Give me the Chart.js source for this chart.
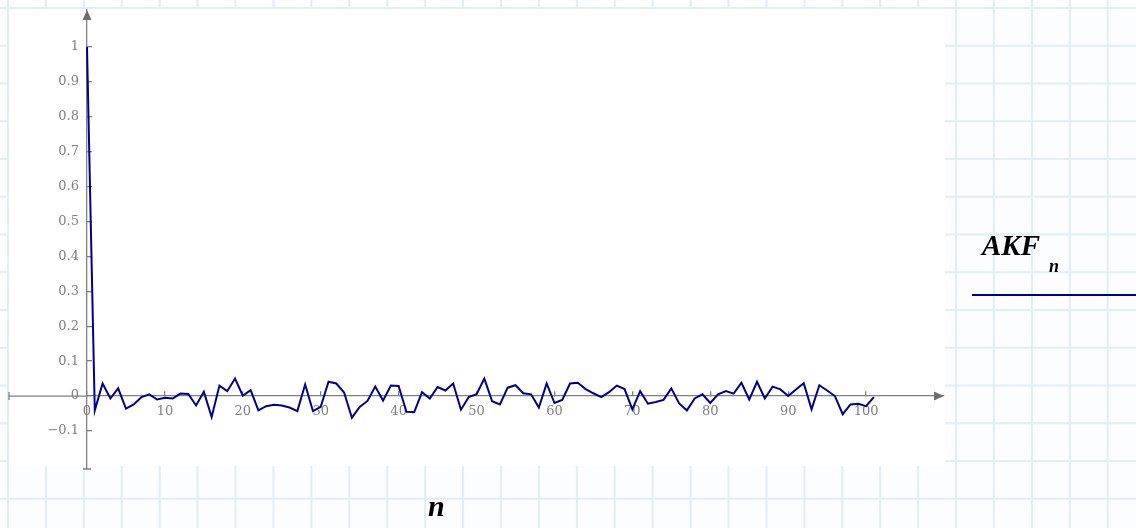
<!DOCTYPE html>
<html>
<head>
<meta charset="utf-8">
<script src="https://cdn.jsdelivr.net/npm/chart.js@4.4.1/dist/chart.umd.min.js"></script>
<style>
  html, body { margin: 0; padding: 0; }
  body {
    width: 1136px; height: 528px; position: relative; overflow: hidden;
    background-color: #fbfdff;
    background-image:
      linear-gradient(to right, #e2ecfb 2px, transparent 2px),
      linear-gradient(to bottom, #e2ecfb 2px, transparent 2px);
    background-size: 37.93px 37.75px;
    background-position: 7px 7px;
  }
  #plotBg { position: absolute; left: 9px; top: 9px; width: 936px; height: 457px; background: #fff; }
  #wrap { position: absolute; left: 0; top: 0; width: 1136px; height: 528px; }
  .lbl { position: absolute; font-family: "Liberation Serif", serif; font-style: italic; font-weight: bold; line-height: 1; color: #000; white-space: nowrap; }
  #legLine { position: absolute; left: 972px; top: 294px; width: 164px; height: 2px; background: #000090; }
</style>
</head>
<body>
<div id="plotBg"></div>
<div id="wrap"><canvas id="myChart" width="1136" height="528"></canvas></div>
<span class="lbl" style="left:982px; top:231px; font-size:29px;">AKF</span>
<span class="lbl" style="left:1049px; top:257px; font-size:18px;">n</span>
<div id="legLine"></div>
<span class="lbl" style="left:428px; top:491px; font-size:30px;">n</span>
<script>

// data
const nValues = [0,1,2,3,4,5,6,7,8,9,10,11,12,13,14,15,16,17,18,19,20,
  21,22,23,24,25,26,27,28,29,30,31,32,33,34,35,36,37,38,39,40,
  41,42,43,44,45,46,47,48,49,50,51,52,53,54,55,56,57,58,59,60,
  61,62,63,64,65,66,67,68,69,70,71,72,73,74,75,76,77,78,79,80,
  81,82,83,84,85,86,87,88,89,90,91,92,93,94,95,96,97,98,99,100,101];

const akf = [1,
  -0.041, 0.036, -0.007, 0.022, -0.036, -0.024, -0.003, 0.005, -0.010, -0.005,
  -0.007, 0.007, 0.006, -0.027, 0.012, -0.060, 0.030, 0.014, 0.050, 0.001,
  0.017, -0.041, -0.029, -0.025, -0.027, -0.033, -0.043, 0.033, -0.043, -0.031,
  0.041, 0.036, 0.010, -0.062, -0.031, -0.014, 0.027, -0.013, 0.030, 0.029,
  -0.045, -0.046, 0.011, -0.007, 0.026, 0.016, 0.036, -0.039, -0.003, 0.005,
  0.050, -0.015, -0.024, 0.024, 0.031, 0.008, 0.005, -0.033, 0.036, -0.020,
  -0.011, 0.036, 0.038, 0.020, 0.008, -0.003, 0.011, 0.030, 0.020, -0.038,
  0.014, -0.022, -0.017, -0.011, 0.022, -0.021, -0.041, -0.007, 0.005, -0.020,
  0.005, 0.014, 0.007, 0.038, -0.010, 0.041, -0.007, 0.027, 0.019, 0.000,
  0.019, 0.037, -0.038, 0.031, 0.016, 0.000, -0.052, -0.024, -0.022, -0.029,
  -0.003];

const xTicks = [0,10,20,30,40,50,60,70,80,90,100];
const yTicks = [-0.1,0,0.1,0.2,0.3,0.4,0.5,0.6,0.7,0.8,0.9,1];

const axisGray = "#808080";
const tickFont = { family: "DejaVu Serif", size: 13 };

//draws arrow heads, the x axis stub left of the y axis and end caps
const axisEnds = {
  id: "axisEnds",
  afterDraw(chart) {
    const ctx = chart.ctx;
    const a = chart.chartArea;
    const x0 = chart.scales.x.getPixelForValue(0);
    const y0 = chart.scales.y.getPixelForValue(0);
    const stub = 78; // x axis goes on left of the y axis
    ctx.save();
    ctx.fillStyle = "#6e6e6e";
    ctx.strokeStyle = axisGray;
    ctx.lineWidth = 1.3;
    ctx.beginPath();
    ctx.moveTo(x0 - stub, y0);
    ctx.lineTo(x0, y0);
    ctx.moveTo(x0 - 4, a.bottom);
    ctx.lineTo(x0 + 4, a.bottom);
    ctx.moveTo(x0 - stub, y0 - 4);
    ctx.lineTo(x0 - stub, y0 + 4);
    ctx.stroke();
    // y arrow
    ctx.beginPath();
    ctx.moveTo(x0, a.top);
    ctx.lineTo(x0 - 4.5, a.top + 10);
    ctx.lineTo(x0 + 4.5, a.top + 10);
    ctx.closePath();
    ctx.fill();
    // x arrow
    ctx.beginPath();
    ctx.moveTo(a.right, y0);
    ctx.lineTo(a.right - 10, y0 - 4.5);
    ctx.lineTo(a.right - 10, y0 + 4.5);
    ctx.closePath();
    ctx.fill();
    ctx.restore();
  }
};

new Chart(document.getElementById("myChart").getContext("2d"), {
  type: "line",
  data: {
    labels: nValues,
    datasets: [{
      data: akf,
      label: "AKF",
      borderColor: "#000090",
      backgroundColor: "#000090",
      borderWidth: 2,
      pointRadius: 0,
      tension: 0,
      fill: false,
      clip: 6
    }]
  },
  options: {
    responsive: false,
    animation: false,
    layout: { padding: { left: 9, right: 192, top: 10, bottom: 59 } },
    plugins: { legend: { display: false }, tooltip: { enabled: false } },
    scales: {
      x: {
        type: "linear",
        min: 0,
        max: 110,
        position: { y: 0 },
        afterBuildTicks: function (scale) { scale.ticks = xTicks.map(v => ({ value: v })); },
        afterFit: function (scale) { scale.paddingLeft = 0; scale.paddingRight = 0; scale.paddingTop = 0; scale.paddingBottom = 0; },
        border: { display: true, color: axisGray, width: 1.3 },
        grid: { drawOnChartArea: false, drawTicks: true, tickLength: -5, color: axisGray, lineWidth: 1.3 },
        ticks: { color: axisGray, font: tickFont, padding: 13, maxRotation: 0, autoSkip: false }
      },
      y: {
        type: "linear",
        min: -0.209,
        max: 1.106,
        position: "left",
        afterBuildTicks: function (scale) { scale.ticks = yTicks.map(v => ({ value: v })); },
        afterFit: function (scale) { scale.width = 78; scale.paddingTop = 0; scale.paddingBottom = 0; },
        border: { display: true, color: axisGray, width: 1.3 },
        grid: { drawOnChartArea: false, drawTicks: true, tickLength: -5, color: axisGray, lineWidth: 1.3 },
        ticks: {
          color: axisGray, font: tickFont, padding: 13, autoSkip: false,
          callback: function (v) { return v < 0 ? "\u2212" + Math.abs(v) : String(Math.round(v * 10) / 10); }
        }
      }
    }
  },
  plugins: [axisEnds]
});
</script>
</body>
</html>
